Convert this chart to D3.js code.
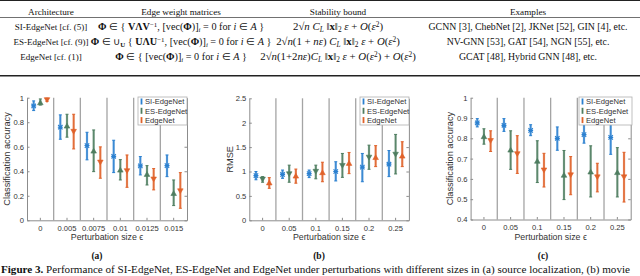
<!DOCTYPE html>
<html>
<head>
<meta charset="utf-8">
<script src="https://cdn.jsdelivr.net/npm/d3@7"></script>
<style>
  body { margin: 0; background: #fff; }
  svg { display: block; }
</style>
</head>
<body>
<script>
// ---- data ----
const seriesNames = ["SI-EdgeNet", "ES-EdgeNet", "EdgeNet"];
const seriesColors = ["#2b80d0", "#4e7d60", "#e0622a"];

// (a) source localization: [mean, low, high]
const aCats = ["0", "0.005", "0.0075", "0.01", "0.0125", "0.015"];
const aTicks = [0, 0.2, 0.4, 0.6, 0.8, 1];
const aSI = [[0.933, 0.895, 0.974], [0.759, 0.661, 0.86], [0.61, 0.493, 0.718], [0.522, 0.389, 0.653], [0.444, 0.37, 0.52], [0.446, 0.356, 0.533]];
const aES = [[0.96, 0.94, 0.99], [0.77, 0.678, 0.865], [0.566, 0.397, 0.737], [0.411, 0.329, 0.495], [0.376, 0.288, 0.446], [0.22, 0.12, 0.329]];
const aEN = [[0.982, 0.969, 0.996], [0.724, 0.582, 0.865], [0.473, 0.343, 0.599], [0.403, 0.269, 0.533], [0.335, 0.248, 0.422], [0.239, 0.098, 0.389]];

// (b) movie recommendation
const bCats = ["0", "0.05", "0.1", "0.15", "0.2", "0.25"];
const bTicks = [0, 0.5, 1, 1.5, 2, 2.5];
const bSI = [[0.915, 0.83, 1.0], [0.94, 0.86, 1.03], [0.956, 0.875, 1.03], [1.0, 0.806, 1.2], [1.09, 0.79, 1.37], [1.15, 0.895, 1.43]];
const bES = [[0.84, 0.78, 0.895], [0.95, 0.78, 1.13], [1.0, 0.85, 1.13], [1.12, 0.88, 1.37], [1.29, 1.045, 1.54], [1.35, 0.95, 1.76]];
const bEN = [[0.77, 0.655, 0.875], [0.91, 0.76, 1.05], [0.98, 0.79, 1.19], [1.17, 0.956, 1.39], [1.29, 1.1, 1.53], [1.32, 1.1, 1.61]];

// (c)
const cCats = ["0", "0.05", "0.1", "0.15", "0.2", "0.25"];
const cTicks = [0.4, 0.5, 0.6, 0.7, 0.8, 0.9, 1];
const cSI = [[0.876, 0.856, 0.897], [0.864, 0.834, 0.897], [0.839, 0.813, 0.867], [0.8, 0.741, 0.856], [0.818, 0.776, 0.875], [0.804, 0.721, 0.87]];
const cES = [[0.809, 0.771, 0.847], [0.743, 0.647, 0.837], [0.688, 0.582, 0.788], [0.619, 0.498, 0.74], [0.635, 0.511, 0.763], [0.632, 0.511, 0.754]];
const cEN = [[0.788, 0.735, 0.837], [0.723, 0.627, 0.813], [0.643, 0.56, 0.726], [0.619, 0.522, 0.71], [0.609, 0.536, 0.677], [0.609, 0.486, 0.731]];

const svg = d3.select("body").append("svg")
    .attr("width", 640)
    .attr("height", 276);

const sans = "'Liberation Sans', Arial, sans-serif";
const serif = "'Liberation Serif', 'Times New Roman', serif";

// ---- table ----
function rich(x, y, segs, fs) {
  let t = svg.append("text")
      .attr("x", x).attr("y", y)
      .attr("text-anchor", "middle")
      .style("font-family", serif)
      .style("font-size", fs + "px")
      .attr("fill", "#111");
  let shift = 0;
  segs.forEach(function(s) {
    if (typeof s === "string") s = {t: s};
    let want = s.sup ? -3.2 : (s.sub ? 2.2 : 0);
    let ts = t.append("tspan").text(s.t);
    if (want != shift) ts.attr("dy", want - shift);
    shift = want;
    if (s.b) ts.style("font-weight", "bold");
    if (s.i) ts.style("font-style", "italic");
    if (s.sup || s.sub) ts.style("font-size", (fs * 0.68) + "px");
  });
  return t;
}

const colX = [51, 181, 338, 528];
const headers = ["Architecture", "Edge weight matrices", "Stability bound", "Examples"];
const archs = ["SI-EdgeNet [cf. (5)]", "ES-EdgeNet [cf. (9)]", "EdgeNet [cf. (1)]"];
const examples = ["GCNN [3], ChebNet [2], JKNet [52], GIN [4], etc.", "NV-GNN [53], GAT [54], NGN [55], etc.", "GCAT [48], Hybrid GNN [48], etc."];
const rowY = [29.8, 44.8, 59.8];

svg.append("line").attr("x1", 0).attr("x2", 640).attr("y1", 0.5).attr("y2", 0.5).attr("stroke", "#222").attr("stroke-width", 1);
svg.append("line").attr("x1", 0).attr("x2", 640).attr("y1", 17.5).attr("y2", 17.5).attr("stroke", "#333").attr("stroke-width", 0.7);
svg.append("line").attr("x1", 0).attr("x2", 640).attr("y1", 75.8).attr("y2", 75.8).attr("stroke", "#222").attr("stroke-width", 1.6);

headers.forEach((h, i) => rich(colX[i], 14.5, [h], 9.2));
archs.forEach((a, i) => rich(colX[0], rowY[i], [a], 9));
examples.forEach((e, i) => rich(colX[3], rowY[i], [e], 9.8));

const mfs = 10.2;
const tail = [", [vec(", {t: "Φ", b: 1}, ")]", {t: "i", sub: 1, i: 1}, " = 0 for ", {t: "i", i: 1}, " ∈ ", {t: "A", i: 1}, " }"];
rich(colX[1], rowY[0], [{t: "Φ", b: 1}, " ∈ { ", {t: "VΛV", b: 1}, {t: "−1", sup: 1}].concat(tail), mfs);
rich(colX[1], rowY[1], [{t: "Φ", b: 1}, " ∈ ∪", {t: "U", b: 1, sub: 1}, " { ", {t: "UΛU", b: 1}, {t: "−1", sup: 1}].concat(tail), mfs);
rich(colX[1], rowY[2], [{t: "Φ", b: 1}, " ∈ { [vec(", {t: "Φ", b: 1}, ")]", {t: "i", sub: 1, i: 1}, " = 0 for ", {t: "i", i: 1}, " ∈ ", {t: "A", i: 1}, " }"], mfs);

const sfs = 10.8;
const norm = [{t: "C", i: 1}, {t: "L", i: 1, sub: 1}, " ‖", {t: "x", b: 1}, "‖", {t: "2", sub: 1}, {t: " ε", i: 1}];
const bigO = [" + ", {t: "O", i: 1}, "(", {t: "ε", i: 1}, {t: "2", sup: 1}, ")"];
rich(colX[2], rowY[0], ["2√", {t: "n ", i: 1}].concat(norm, bigO), sfs);
rich(colX[2], rowY[1], ["2√", {t: "n", i: 1}, "(1 + ", {t: "nε", i: 1}, ") "].concat(norm, bigO), sfs);
rich(colX[2], rowY[2], ["2√", {t: "n", i: 1}, "(1+2", {t: "nε", i: 1}, ")"].concat(norm, bigO, bigO), sfs);

// ---- panels ----
function panel(cfg) {
  let x = d3.scaleBand().domain(cfg.cats).range([cfg.x0, cfg.x1]);
  let y = d3.scaleLinear().domain(cfg.domain).range([cfg.y1, cfg.y0]);
  let g = svg.append("g");
  let bw = x.bandwidth();

  // separators between groups
  cfg.cats.slice(1).forEach(function(c) {
    g.append("line")
      .attr("x1", x(c)).attr("x2", x(c))
      .attr("y1", cfg.y0).attr("y2", cfg.y1)
      .attr("stroke", "#a4a4a4").attr("stroke-width", 1.3);
  });

  // axes
  g.append("g").attr("transform", "translate(" + cfg.x0 + ",0)")
      .call(d3.axisLeft(y).tickValues(cfg.ticks).tickSizeInner(-2.5).tickSizeOuter(0).tickPadding(3).tickFormat(d3.format("")));
  g.append("g").attr("transform", "translate(" + cfg.x1 + ",0)")
      .call(d3.axisRight(y).tickValues(cfg.ticks).tickSizeInner(-2.5).tickSizeOuter(0).tickFormat(""));
  g.append("g").attr("transform", "translate(0," + cfg.y1 + ")")
      .call(d3.axisBottom(x).tickSizeInner(-2.5).tickSizeOuter(0).tickPadding(5));
  g.selectAll(".domain").attr("stroke", "#8c8c8c");
  g.selectAll(".tick line").attr("stroke", "#8c8c8c");
  g.selectAll(".tick text").attr("fill", "#333").style("font-family", sans).style("font-size", "7.6px");

  // axis labels
  g.append("text")
    .attr("transform", "translate(" + cfg.ylabX + "," + ((cfg.y0 + cfg.y1) / 2) + ") rotate(-90)")
    .attr("text-anchor", "middle")
    .style("font-family", sans).style("font-size", "9.2px").attr("fill", "#333")
    .text(cfg.ylabel);
  g.append("text")
    .attr("x", (cfg.x0 + cfg.x1) / 2).attr("y", cfg.y1 + 20)
    .attr("text-anchor", "middle")
    .style("font-family", sans).style("font-size", "8.8px").attr("fill", "#333")
    .text("Perturbation size ϵ");

  // error bars
  let offs = [-bw / 4, 0, bw / 4];
  cfg.series.forEach(function(s, si) {
    let col = seriesColors[si];
    s.forEach(function(v, i) {
      let cx = x(cfg.cats[i]) + bw / 2 + offs[si];
      g.append("line").attr("x1", cx).attr("x2", cx)
        .attr("y1", y(v[1])).attr("y2", y(v[2]))
        .attr("stroke", col).attr("stroke-width", 2.2).attr("opacity", 0.75);
      g.append("line").attr("x1", cx).attr("x2", cx)
        .attr("y1", y(v[1])).attr("y2", y(v[2]))
        .attr("stroke", col).attr("stroke-width", 0.8);
      [v[1], v[2]].forEach(function(e) {
        g.append("line").attr("x1", cx - 1.5).attr("x2", cx + 1.5)
          .attr("y1", y(e)).attr("y2", y(e))
          .attr("stroke", col).attr("stroke-width", 1);
      });
      let cy = y(v[0]);
      let m = cfg.markers[si];
      if (m == "x") {
        g.append("path")
          .attr("d", "M" + (cx - 2.2) + "," + (cy - 2.2) + "L" + (cx + 2.2) + "," + (cy + 2.2) +
                     "M" + (cx - 2.2) + "," + (cy + 2.2) + "L" + (cx + 2.2) + "," + (cy - 2.2) +
                     "M" + (cx - 2.5) + "," + cy + "L" + (cx + 2.5) + "," + cy)
          .attr("stroke", col).attr("stroke-width", 1.2).attr("fill", "none");
      } else {
        let d = m == "up" ? -1 : 1;
        g.append("path")
          .attr("d", "M" + (cx - 2.8) + "," + (cy - d * 2.2) + "L" + (cx + 2.8) + "," + (cy - d * 2.2) + "L" + cx + "," + (cy + d * 2.6) + "Z")
          .attr("fill", col).attr("stroke", col).attr("stroke-width", 0.6);
      }
    });
  });

  // legend
  let lg = g.append("g");
  lg.append("rect")
    .attr("x", cfg.leg[0]).attr("y", cfg.leg[1])
    .attr("width", cfg.leg[2]).attr("height", 28)
    .attr("fill", "#fff").attr("stroke", "#b0b0b0").attr("stroke-width", 0.8);
  seriesNames.forEach(function(n, i) {
    let ly = cfg.leg[1] + 4.5 + i * 9.3;
    let lx = cfg.leg[0] + 3.5;
    lg.append("line").attr("x1", lx).attr("x2", lx).attr("y1", ly - 3).attr("y2", ly + 3)
      .attr("stroke", seriesColors[i]).attr("stroke-width", 1.8);
    lg.append("text")
      .attr("x", lx + 3.5).attr("y", ly + 2.7)
      .style("font-family", sans).style("font-size", "7.6px").attr("fill", "#333")
      .text(n);
  });

  // sub caption
  svg.append("text")
    .attr("x", cfg.capX).attr("y", 258.5)
    .attr("text-anchor", "middle")
    .style("font-family", serif).style("font-size", "9.5px").style("font-weight", "bold")
    .attr("fill", "#111")
    .text(cfg.cap);
}

panel({cats: aCats, ticks: aTicks, domain: [0, 1], series: [aSI, aES, aEN],
  x0: 27, x1: 187, y0: 97.7, y1: 220.3, ylabX: 10, ylabel: "Classification accuracy",
  markers: ["x", "up", "down"], leg: [138, 97, 49], capX: 97, cap: "(a)"});
panel({cats: bCats, ticks: bTicks, domain: [0, 2.5], series: [bSI, bES, bEN],
  x0: 249.3, x1: 408.9, y0: 98.3, y1: 220.3, ylabX: 233, ylabel: "RMSE",
  markers: ["x", "down", "up"], leg: [360, 97, 49], capX: 319, cap: "(b)"});
panel({cats: cCats, ticks: cTicks, domain: [0.4, 1], series: [cSI, cES, cEN],
  x0: 470.6, x1: 630.7, y0: 97.7, y1: 219.5, ylabX: 453, ylabel: "Classification accuracy",
  markers: ["x", "up", "down"], leg: [579, 97, 53], capX: 543, cap: "(c)"});

// figure caption
let cap = svg.append("text")
    .attr("x", 1).attr("y", 273)
    .style("font-family", serif).style("font-size", "11.1px").attr("fill", "#111");
cap.append("tspan").style("font-weight", "bold").text("Figure 3.");
cap.append("tspan").text(" Performance of SI-EdgeNet, ES-EdgeNet and EdgeNet under perturbations with different sizes in (a) source localization, (b) movie");
</script>
</body>
</html>
